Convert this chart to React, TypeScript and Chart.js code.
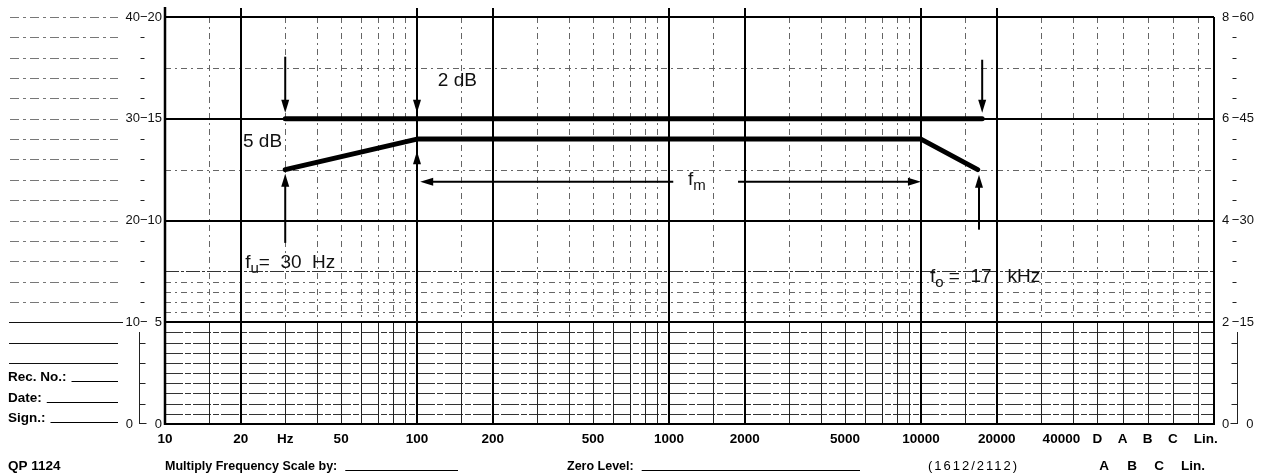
import React, { useEffect, useRef } from 'react';
import { Chart, registerables } from 'chart.js';

Chart.register(...registerables);

const FONT = '"Liberation Sans", Arial, Helvetica, sans-serif';

// ---- Tolerance limits (frequency in Hz, level in dB) ----
const upperFreq = [30, 17500];
const upperLevel = [30, 30];
const lowerFreq = [30, 100, 10000, 16800];
const lowerLevel = [25, 28, 28, 25];

// ---- Frequency axis labels ----
const freqTicks = [10, 20, 30, 50, 100, 200, 500, 1000, 2000, 5000, 10000, 20000, 40000];
const freqTickLabels = ['10', '20', 'Hz', '50', '100', '200', '500', '1000', '2000', '5000', '10000', '20000', '40000\u2007\u2007\u2007'];
// weighting columns after 40 kHz, as log10 positions on the same axis
const weightingTicks = [4.7, 4.8, 4.9, 5.0, 5.1];
const weightingLabels = ['D', 'A', 'B', 'C', '\u2007\u2007Lin.'];

// ---- Level axes (dB) ----
const levelTicks = [0, 10, 20, 30, 40];
const leftLevelLabels = ['0\u2007\u2007\u20070', '10\u2212\u20075', '20\u221210', '30\u221215', '40\u221220'];
const rightLevelLabels = ['0\u2007\u2007\u20090', '2\u2009\u221215', '4\u2009\u221230', '6\u2009\u221245', '8\u2009\u221260'];

// ---- Paper grid ----
const majorGridFreqs = [20, 100, 200, 1000, 2000, 10000, 20000];
const minorGridFreqs = [15, 30, 40, 50, 60, 70, 80, 90, 150, 300, 400, 500, 600, 700, 800, 900, 1500, 3000, 4000, 5000, 6000, 7000, 8000, 9000, 15000, 30000, 40000];
const majorGridLevels = [10, 20, 30];
const bandGridLevels = [1, 2, 3, 4, 5, 6, 7, 8, 9];
const minorGridLevels = [11, 12, 13, 14, 25, 35];
const mediumGridLevels = [15];
const marginGuideLevels = [40, 38, 36, 34, 32, 30, 28, 26, 24, 22, 20, 18, 16, 14, 12];
const marginSolidLevels = [10, 8, 6];
const sideTickLevels = [38, 36, 34, 32, 28, 26, 24, 22, 18, 16, 14, 12, 8, 6, 4, 2];

// ---- Arrows ----
const vArrowFreq = [30, 100, 17500, 30, 100, 17000];
const vArrowFrom = [36.1, 38.5, 35.8, 17.8, 18.0, 19.1];
const vArrowTo = [30.6, 30.6, 30.6, 24.6, 26.8, 24.5];
const hArrowLevel = 23.8;
const hArrowFromFreq = [1040, 1880];
const hArrowToFreq = [103, 10000];

// ---- Annotations: [text, isSubscript] ----
const notes = [
  { parts: [['2 dB', 0]], freq: 121, level: 33.2 },
  { parts: [['5 dB', 0]], freq: 20.4, level: 27.2 },
  { parts: [['f', 0], ['u', 1], ['=  30  Hz', 0]], freq: 20.8, level: 15.3 },
  { parts: [['f', 0], ['o', 1], [' =  17   kHz', 0]], freq: 10860, level: 14.0 },
  { parts: [['f', 0], ['m', 1]], freq: 1190, level: 23.5 },
];

// ---- Form fields ----
const marginFields = ['Rec. No.:', 'Date:', 'Sign.:'];
const marginFieldLevels = [4, 2, 0];

const footerTexts = ['QP 1124', 'Multiply Frequency Scale by:', 'Zero Level:', '(1612/2112)'];
const footerWeightings = ['A', 'B', 'C', 'Lin.'];

const lg = (f: number) => Math.log10(f);

function hline(ctx: CanvasRenderingContext2D, x1: number, x2: number, y: number) {
  ctx.beginPath();
  ctx.moveTo(x1, y);
  ctx.lineTo(x2, y);
  ctx.stroke();
}
function vline(ctx: CanvasRenderingContext2D, x: number, y1: number, y2: number) {
  ctx.beginPath();
  ctx.moveTo(x, y1);
  ctx.lineTo(x, y2);
  ctx.stroke();
}
function arrow(ctx: CanvasRenderingContext2D, x1: number, y1: number, x2: number, y2: number) {
  const ang = Math.atan2(y2 - y1, x2 - x1);
  const L = 13;
  const W = 4;
  ctx.beginPath();
  ctx.moveTo(x1, y1);
  ctx.lineTo(x2 - Math.cos(ang) * 6, y2 - Math.sin(ang) * 6);
  ctx.stroke();
  ctx.beginPath();
  ctx.moveTo(x2, y2);
  ctx.lineTo(x2 - Math.cos(ang) * L - Math.sin(ang) * W, y2 - Math.sin(ang) * L + Math.cos(ang) * W);
  ctx.lineTo(x2 - Math.cos(ang) * L + Math.sin(ang) * W, y2 - Math.sin(ang) * L - Math.cos(ang) * W);
  ctx.closePath();
  ctx.fill();
}

const paperPlugin = {
  id: 'paper',
  beforeDatasetsDraw(chart: any) {
    const { ctx, chartArea: a, scales } = chart;
    const xs = scales.x;
    const ys = scales.y;
    const X = (v: number) => Math.round(xs.getPixelForValue(v));
    const Y = (d: number) => Math.round(ys.getPixelForValue(d));
    const y10 = Y(10);
    ctx.save();

    // band (0-10 dB) horizontals
    ctx.lineWidth = 1;
    ctx.strokeStyle = '#333';
    ctx.setLineDash([18, 2, 6, 2]);
    for (const d of bandGridLevels) hline(ctx, a.left, a.right, Y(d) + 0.5);

    // minor horizontals
    ctx.strokeStyle = '#666';
    ctx.setLineDash([6, 4, 2, 4]);
    for (const d of minorGridLevels) hline(ctx, a.left, a.right, Y(d) + 0.5);
    ctx.strokeStyle = '#333';
    ctx.setLineDash([14, 2, 3, 2]);
    for (const d of mediumGridLevels) hline(ctx, a.left, a.right, Y(d) + 0.5);

    // minor verticals
    const minorX = [...minorGridFreqs.map(lg), ...weightingTicks];
    for (const v of minorX) {
      const x = X(v) + 0.5;
      ctx.strokeStyle = '#666';
      ctx.setLineDash([6, 4, 2, 4]);
      vline(ctx, x, a.top, y10);
      ctx.strokeStyle = '#222';
      ctx.setLineDash([]);
      vline(ctx, x, y10, a.bottom);
    }

    // major verticals
    ctx.setLineDash([]);
    ctx.strokeStyle = '#000';
    ctx.lineWidth = 2;
    for (const f of majorGridFreqs) vline(ctx, X(lg(f)), a.top - 9, a.bottom);
    // major horizontals
    for (const d of majorGridLevels) hline(ctx, a.left, a.right, Y(d));

    // frame
    ctx.lineWidth = 2;
    hline(ctx, a.left, a.right, a.top);
    hline(ctx, a.left - 1, a.right + 1, a.bottom);
    vline(ctx, a.right, a.top, a.bottom);
    ctx.lineWidth = 2.5;
    vline(ctx, a.left, a.top - 10, a.bottom + 1);

    // left margin guide lines
    ctx.lineWidth = 1;
    ctx.strokeStyle = '#777';
    ctx.setLineDash([9, 4, 3, 4]);
    for (const d of marginGuideLevels) hline(ctx, 10, 118, Y(d) + 0.5);
    ctx.setLineDash([]);
    ctx.strokeStyle = '#111';
    for (const d of marginSolidLevels) hline(ctx, 9, d === 10 ? 123 : 118, Y(d) + 0.5);

    // side tick columns
    const lx = 139.5;
    const rx = 1237.5;
    ctx.strokeStyle = '#222';
    for (const d of sideTickLevels) {
      const y = Y(d) + 0.5;
      if (d < 10) {
        hline(ctx, lx, lx + 6, y);
        hline(ctx, rx - 6, rx, y);
      } else {
        hline(ctx, lx + 1, lx + 5, y);
        hline(ctx, rx - 5, rx - 1, y);
      }
    }
    vline(ctx, lx, Y(9), a.bottom);
    hline(ctx, lx, lx + 7, a.bottom - 0.5);
    vline(ctx, rx, Y(9), a.bottom);
    hline(ctx, rx - 7, rx, a.bottom - 0.5);

    ctx.restore();
  },
  afterDatasetsDraw(chart: any) {
    const { ctx, chartArea: a, scales } = chart;
    const xs = scales.x;
    const ys = scales.y;
    const XF = (f: number) => xs.getPixelForValue(lg(f));
    const Y = (d: number) => ys.getPixelForValue(d);
    ctx.save();

    // arrows
    ctx.strokeStyle = '#000';
    ctx.fillStyle = '#000';
    ctx.lineWidth = 2;
    for (let i = 0; i < vArrowFreq.length; i++) {
      const x = XF(vArrowFreq[i]);
      arrow(ctx, x, Y(vArrowFrom[i]), x, Y(vArrowTo[i]));
    }
    for (let i = 0; i < hArrowFromFreq.length; i++) {
      const y = Y(hArrowLevel);
      arrow(ctx, XF(hArrowFromFreq[i]), y, XF(hArrowToFreq[i]), y);
    }

    // annotations
    ctx.fillStyle = '#111';
    ctx.textBaseline = 'alphabetic';
    ctx.textAlign = 'left';
    for (const n of notes) {
      let x = XF(n.freq);
      const y = Y(n.level);
      for (const [t, sub] of n.parts as [string, number][]) {
        ctx.font = sub ? `15px ${FONT}` : `19px ${FONT}`;
        ctx.fillText(t, x, sub ? y + 5 : y);
        x += ctx.measureText(t).width;
      }
    }

    // left margin form fields
    ctx.fillStyle = '#000';
    ctx.strokeStyle = '#000';
    ctx.lineWidth = 1;
    ctx.font = `bold 13.5px ${FONT}`;
    for (let i = 0; i < marginFields.length; i++) {
      const y = Math.round(Y(marginFieldLevels[i])) - 2;
      ctx.fillText(marginFields[i], 8, y);
      const w = ctx.measureText(marginFields[i]).width;
      hline(ctx, 8 + w + 5, 118, y + 0.5);
    }

    // footer row
    const fy = 470;
    ctx.font = `bold 13.5px ${FONT}`;
    ctx.fillText(footerTexts[0], 8, fy);
    ctx.font = `bold 12.5px ${FONT}`;
    ctx.fillText(footerTexts[1], a.left, fy);
    let w = ctx.measureText(footerTexts[1]).width;
    hline(ctx, a.left + w + 8, 458, fy + 0.5);
    ctx.fillText(footerTexts[2], 567, fy);
    w = ctx.measureText(footerTexts[2]).width;
    hline(ctx, 567 + w + 8, 860, fy + 0.5);
    ctx.font = `13px ${FONT}`;
    (ctx as any).letterSpacing = '2px';
    ctx.fillText(footerTexts[3], 928, fy);
    (ctx as any).letterSpacing = '0px';
    ctx.font = `bold 13.5px ${FONT}`;
    ctx.textAlign = 'center';
    const fwX = [1104, 1132, 1159];
    for (let i = 0; i < 3; i++) ctx.fillText(footerWeightings[i], fwX[i], fy);
    ctx.textAlign = 'left';
    ctx.fillText(footerWeightings[3], 1181, fy);

    ctx.restore();
  },
};

export default function App() {
  const ref = useRef<HTMLCanvasElement>(null);
  useEffect(() => {
    const canvas = ref.current;
    if (!canvas) return;
    const tickFont = { family: FONT, size: 13.5, weight: 'bold' as const };
    const levelFont = { family: FONT, size: 13 };
    const xLabels = [...freqTickLabels, ...weightingLabels];
    const chart = new Chart(canvas, {
      type: 'line',
      data: {
        datasets: [
          {
            label: 'upper limit',
            data: upperFreq.map((f, i) => ({ x: lg(f), y: upperLevel[i] })),
            borderColor: '#000',
            borderWidth: 5,
            pointRadius: 0,
            fill: false,
            borderCapStyle: 'round',
            borderJoinStyle: 'round',
          },
          {
            label: 'lower limit',
            data: lowerFreq.map((f, i) => ({ x: lg(f), y: lowerLevel[i] })),
            borderColor: '#000',
            borderWidth: 5,
            pointRadius: 0,
            fill: false,
            borderCapStyle: 'round',
            borderJoinStyle: 'round',
          },
        ],
      },
      options: {
        animation: false,
        responsive: false,
        devicePixelRatio: 1,
        layout: { padding: { top: 17, left: 0, right: 0, bottom: 0 } },
        plugins: { legend: { display: false }, tooltip: { enabled: false } },
        scales: {
          x: {
            type: 'linear',
            position: 'bottom',
            min: 1,
            max: 5.163,
            grid: { display: false, drawTicks: false },
            border: { display: false },
            afterBuildTicks: (s: any) => {
              s.ticks = [...freqTicks.map((f) => ({ value: lg(f) })), ...weightingTicks.map((v) => ({ value: v }))];
            },
            afterFit: (s: any) => {
              s.height = 51;
            },
            ticks: {
              autoSkip: false,
              maxRotation: 0,
              minRotation: 0,
              padding: 7,
              color: '#000',
              font: tickFont,
              callback: (_v: any, i: number) => xLabels[i],
            },
          },
          y: {
            type: 'linear',
            position: 'left',
            min: 0,
            max: 40,
            grid: { display: false, drawTicks: false },
            border: { display: false },
            afterBuildTicks: (s: any) => {
              s.ticks = levelTicks.map((v) => ({ value: v }));
            },
            afterFit: (s: any) => {
              s.width = 165;
            },
            ticks: {
              padding: 3,
              color: '#111',
              font: levelFont,
              callback: (_v: any, i: number) => leftLevelLabels[i],
            },
          },
          y2: {
            type: 'linear',
            position: 'right',
            min: 0,
            max: 40,
            grid: { display: false, drawTicks: false },
            border: { display: false },
            afterBuildTicks: (s: any) => {
              s.ticks = levelTicks.map((v) => ({ value: v }));
            },
            afterFit: (s: any) => {
              s.width = 58;
            },
            ticks: {
              padding: 8,
              color: '#111',
              font: levelFont,
              callback: (_v: any, i: number) => rightLevelLabels[i],
            },
          },
        },
      },
      plugins: [paperPlugin],
    } as any);
    return () => chart.destroy();
  }, []);
  return (
    <div style={{ position: 'absolute', left: 0, top: 0, width: 1272, height: 475, background: '#fff' }}>
      <canvas ref={ref} width={1272} height={475} style={{ display: 'block' }} />
    </div>
  );
}
